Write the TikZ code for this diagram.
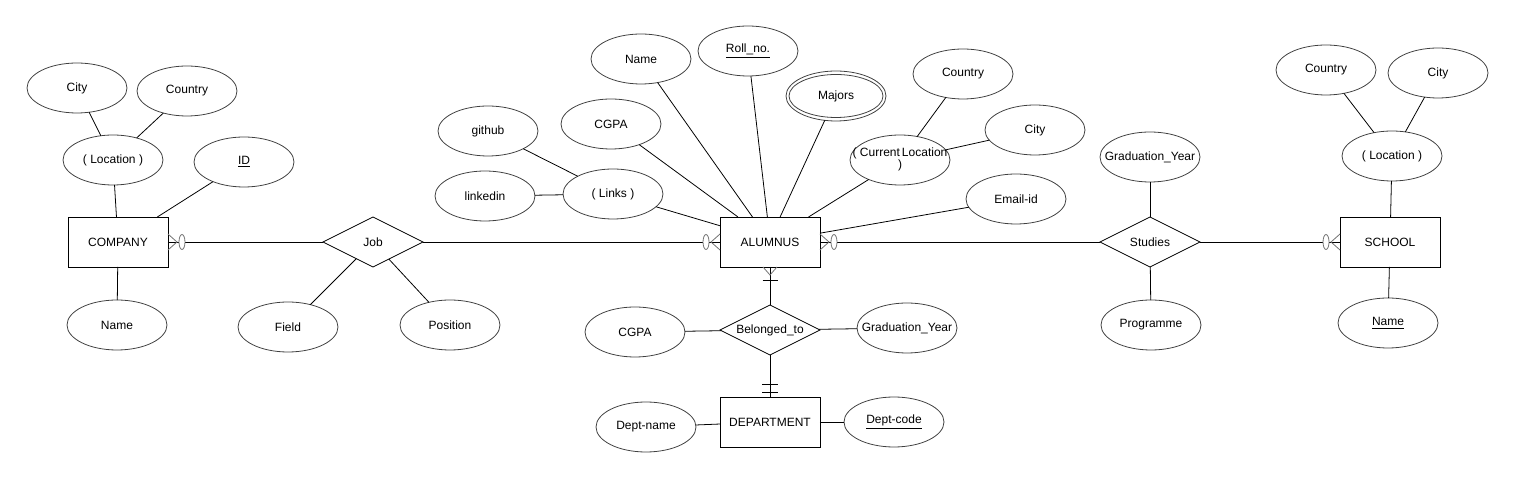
\documentclass[tikz,border=0pt]{standalone}
\usepackage{fontspec}
\setmainfont{Liberation Sans}
\usetikzlibrary{shapes.geometric,calc}
\newcommand{\zb}[1]{\makebox[0pt]{#1}}
\begin{document}
\begin{tikzpicture}[x=0.02cm,y=-0.02cm,line width=0.45pt,
  every node/.style={font=\fontsize{6.83}{8.2}\selectfont,outer sep=0pt,inner sep=0pt},
  entity/.style={draw,rectangle,minimum width=2cm,minimum height=1cm},
  attr/.style={draw=black!75,ellipse,minimum width=2cm,minimum height=1cm},
  rel/.style={draw,diamond,minimum width=2cm,minimum height=1cm},
  conn/.style={draw=black},
  mk/.style={draw=black!55},
  mkc/.style={draw=black!55,fill=white}]
\useasboundingbox (0,0) rectangle (1515,479);
% entities
\node[entity] (company) at (118,242) {COMPANY};
\node[entity] (alumnus) at (770,242) {ALUMNUS};
\node[entity] (school) at (1390,242) {SCHOOL};
\node[entity] (dept) at (770,422) {DEPARTMENT};
% relationships
\node[rel] (job) at (373,242) {\zb{Job}};
\node[rel] (studies) at (1150,242) {\zb{Studies}};
\node[rel] (belong) at (770,330) {\zb{Belonged\_to}};
% company attributes
\node[attr] (ccity) at (77,88) {\zb{City}};
\node[attr] (ccountry) at (187,91) {\zb{Country}};
\node[attr] (cloc) at (113,160) {\zb{( Location )}};
\node[attr] (cid) at (244,162) {\zb{\underline{ID}}};
\node[attr] (cname) at (117,325) {\zb{Name}};
% job attributes
\node[attr] (field) at (288,327) {\zb{Field}};
\node[attr] (position) at (450,325) {\zb{Position}};
% alumnus attributes
\node[attr] (aname) at (641,59) {\zb{Name}};
\node[attr] (roll) at (748,51) {\zb{\underline{Roll\_no.}}};
\node[attr] (majors) at (836,96) {\zb{Majors}};
\draw[draw=black!75] (majors.center) ellipse [x radius=0.94cm,y radius=0.43cm];
\node[attr] (acgpa) at (611,124) {\zb{CGPA}};
\node[attr] (github) at (488,131) {\zb{github}};
\node[attr] (linkedin) at (485,196) {\zb{linkedin}};
\node[attr] (links) at (613,194) {\zb{( Links )}};
\node[attr] (curloc) at (900,160) {\zb{\begin{tabular}{@{}c@{}}( Current\,Location\\[-1.5pt])\end{tabular}}};
\node[attr] (acountry) at (963,74) {\zb{Country}};
\node[attr] (acity) at (1035,130) {\zb{City}};
\node[attr] (email) at (1016,199) {\zb{Email-id}};
% belonged_to attributes
\node[attr] (bcgpa) at (635,332) {\zb{CGPA}};
\node[attr] (bgrad) at (907,328) {\zb{Graduation\_Year}};
% department attributes
\node[attr] (dname) at (646,427) {\zb{Dept-name}};
\node[attr] (dcode) at (894,422) {\zb{\underline{Dept-code}}};
% studies attributes
\node[attr] (sgrad) at (1150,157) {\zb{Graduation\_Year}};
\node[attr] (prog) at (1151,325) {\zb{Programme}};
% school attributes
\node[attr] (scountry) at (1326,70) {\zb{Country}};
\node[attr] (scity) at (1438,73) {\zb{City}};
\node[attr] (sloc) at (1392,156) {\zb{( Location )}};
\node[attr] (sname) at (1388,323) {\zb{\underline{Name}}};
% connectors
\draw[conn] (ccity) -- (cloc);
\draw[conn] (ccountry) -- (cloc);
\draw[conn] (cloc) -- (company);
\draw[conn] (cid) -- (company);
\draw[conn] (cname) -- (company);
\draw[conn] (company) -- (job);
\draw[conn] (job) -- (field);
\draw[conn] (job) -- (position);
\draw[conn] (job) -- (alumnus);
\draw[conn] (github) -- (links);
\draw[conn] (linkedin) -- (links);
\draw[conn] (links) -- (alumnus.162.3);
\draw[conn] (acgpa) -- (alumnus.142.9);
\draw[conn] (aname) -- (alumnus.125.8);
\draw[conn] (roll) -- (alumnus.96.8);
\draw[conn] (majors) -- (alumnus.68.2);
\draw[conn] (curloc) -- (alumnus.33.3);
\draw[conn] (email) -- (alumnus.10.2);
\draw[conn] (acountry) -- (curloc);
\draw[conn] (acity) -- (curloc);
\draw[conn] (alumnus) -- (studies);
\draw[conn] (studies) -- (school);
\draw[conn] (sgrad) -- (studies);
\draw[conn] (prog) -- (studies);
\draw[conn] (scountry) -- (sloc);
\draw[conn] (scity) -- (sloc);
\draw[conn] (sloc) -- (school);
\draw[conn] (school) -- (sname);
\draw[conn] (alumnus) -- (belong);
\draw[conn] (belong) -- (dept);
\draw[conn] (bcgpa) -- (belong);
\draw[conn] (belong) -- (bgrad);
\draw[conn] (dname) -- (dept);
\draw[conn] (dept) -- (dcode);
% cardinality markers
% company east: zero or many
\draw[mk] ($(company.east)+(0,-8)$) -- ($(company.east)+(9,0)$) -- ($(company.east)+(0,8)$);
\draw[mkc] ($(company.east)+(14,0)$) ellipse [x radius=0.06cm,y radius=0.15cm];
% alumnus west: zero or many
\draw[mk] ($(alumnus.west)+(0,-8)$) -- ($(alumnus.west)+(-9,0)$) -- ($(alumnus.west)+(0,8)$);
\draw[mkc] ($(alumnus.west)+(-14,0)$) ellipse [x radius=0.06cm,y radius=0.15cm];
% alumnus east: zero or many
\draw[mk] ($(alumnus.east)+(0,-8)$) -- ($(alumnus.east)+(9,0)$) -- ($(alumnus.east)+(0,8)$);
\draw[mkc] ($(alumnus.east)+(14,0)$) ellipse [x radius=0.06cm,y radius=0.15cm];
% school west: zero or many
\draw[mk] ($(school.west)+(0,-8)$) -- ($(school.west)+(-9,0)$) -- ($(school.west)+(0,8)$);
\draw[mkc] ($(school.west)+(-14,0)$) ellipse [x radius=0.06cm,y radius=0.15cm];
% alumnus south: one or many
\draw[mk] ($(alumnus.south)+(-7,0)$) -- ($(alumnus.south)+(0,8)$) -- ($(alumnus.south)+(7,0)$);
\draw[conn] ($(alumnus.south)+(-7.5,13)$) -- ($(alumnus.south)+(7.5,13)$);
% department north: one and only one
\draw[conn] ($(dept.north)+(-8,-13)$) -- ($(dept.north)+(8,-13)$);
\draw[conn] ($(dept.north)+(-8,-5)$) -- ($(dept.north)+(8,-5)$);
\end{tikzpicture}
\end{document}
